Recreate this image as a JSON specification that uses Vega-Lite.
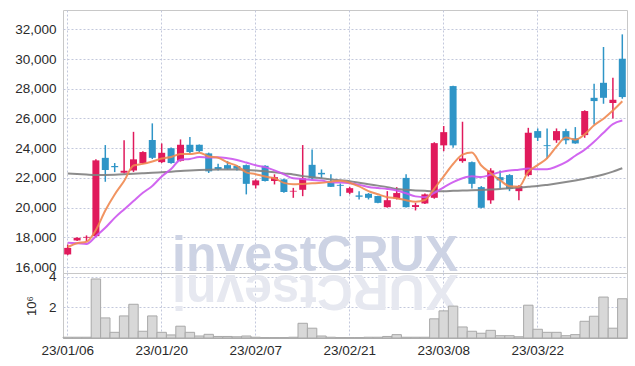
{
  "$schema": "https://vega.github.io/schema/vega-lite/v6.json",
  "padding": {"left": 14, "top": 9, "right": 9, "bottom": 0},
  "spacing": 0,
  "bounds": "flush",
  "background": "#ffffff",
  "config": {
    "view": {"stroke": "#c8c8c8"},
    "concat": {"spacing": 0},
    "axis": {
      "gridColor": "#c3c8dc",
      "gridDash": [2, 2],
      "gridWidth": 1,
      "labelFont": "Liberation Sans",
      "labelFontSize": 13.5,
      "labelColor": "#2a2a2a",
      "labelOverlap": false,
      "ticks": false,
      "domain": false
    }
  },
  "resolve": {"scale": {"x": "shared"}},
  "datasets": {
    "p": [
      {"d": "23/01/06", "o": 16850, "h": 17520, "l": 16800, "c": 17290, "v": 50000, "ma5": 17350, "ma10": 17630, "ma60": 22300},
      {"d": "23/01/09", "o": 17790, "h": 18000, "l": 17750, "c": 17970, "v": 50000, "ma5": 17600, "ma10": 17600, "ma60": 22270},
      {"d": "23/01/10", "o": 17980, "h": 18130, "l": 17750, "c": 18030, "v": 50000, "ma5": 17700, "ma10": 17560, "ma60": 22230},
      {"d": "23/01/11", "o": 18080, "h": 23250, "l": 18000, "c": 23180, "v": 3850000, "ma5": 18500, "ma10": 18080, "ma60": 22200},
      {"d": "23/01/12", "o": 23350, "h": 24210, "l": 21740, "c": 22530, "v": 1310000, "ma5": 19800, "ma10": 18640, "ma60": 22200},
      {"d": "23/01/13", "o": 22800, "h": 23000, "l": 22390, "c": 22720, "v": 370000, "ma5": 20886, "ma10": 19310, "ma60": 22210},
      {"d": "23/01/16", "o": 22350, "h": 24530, "l": 22300, "c": 22480, "v": 1440000, "ma5": 21788, "ma10": 19880, "ma60": 22240},
      {"d": "23/01/17", "o": 22500, "h": 25100, "l": 22400, "c": 23250, "v": 2200000, "ma5": 22832, "ma10": 20440, "ma60": 22280},
      {"d": "23/01/18", "o": 22980, "h": 23800, "l": 22950, "c": 23740, "v": 440000, "ma5": 22944, "ma10": 21000, "ma60": 22310},
      {"d": "23/01/19", "o": 24550, "h": 25670, "l": 23270, "c": 23350, "v": 1440000, "ma5": 23108, "ma10": 21454, "ma60": 22340},
      {"d": "23/01/20", "o": 23060, "h": 24320, "l": 23000, "c": 23690, "v": 370000, "ma5": 23302, "ma10": 22094, "ma60": 22380},
      {"d": "23/01/25", "o": 24000, "h": 24050, "l": 22950, "c": 23000, "v": 200000, "ma5": 23406, "ma10": 22597, "ma60": 22420},
      {"d": "23/01/26", "o": 23150, "h": 24590, "l": 23100, "c": 24230, "v": 770000, "ma5": 23602, "ma10": 23217, "ma60": 22460},
      {"d": "23/01/27", "o": 24230, "h": 24750, "l": 23650, "c": 23740, "v": 370000, "ma5": 23602, "ma10": 23273, "ma60": 22500},
      {"d": "23/01/30", "o": 24230, "h": 24250, "l": 23700, "c": 23800, "v": 130000, "ma5": 23692, "ma10": 23400, "ma60": 22530},
      {"d": "23/01/31", "o": 23650, "h": 23700, "l": 22330, "c": 22440, "v": 240000, "ma5": 23442, "ma10": 23372, "ma60": 22550},
      {"d": "23/02/01", "o": 22730, "h": 22950, "l": 22500, "c": 22600, "v": 100000, "ma5": 23362, "ma10": 23384, "ma60": 22560},
      {"d": "23/02/02", "o": 22860, "h": 23130, "l": 22560, "c": 22610, "v": 100000, "ma5": 23038, "ma10": 23320, "ma60": 22570},
      {"d": "23/02/03", "o": 22800, "h": 22860, "l": 22500, "c": 22620, "v": 80000, "ma5": 22814, "ma10": 23208, "ma60": 22570},
      {"d": "23/02/06", "o": 22860, "h": 22900, "l": 20890, "c": 21600, "v": 130000, "ma5": 22374, "ma10": 23033, "ma60": 22540},
      {"d": "23/02/07", "o": 21500, "h": 21900, "l": 21290, "c": 21830, "v": 50000, "ma5": 22252, "ma10": 22847, "ma60": 22500},
      {"d": "23/02/08", "o": 22815, "h": 22860, "l": 21750, "c": 21790, "v": 30000, "ma5": 22090, "ma10": 22726, "ma60": 22450},
      {"d": "23/02/09", "o": 21790, "h": 22240, "l": 21560, "c": 22050, "v": 30000, "ma5": 21978, "ma10": 22508, "ma60": 22380},
      {"d": "23/02/10", "o": 21900, "h": 21950, "l": 21000, "c": 21050, "v": 30000, "ma5": 21664, "ma10": 22239, "ma60": 22300},
      {"d": "23/02/13", "o": 21080, "h": 21330, "l": 20660, "c": 21130, "v": 50000, "ma5": 21570, "ma10": 21972, "ma60": 22230},
      {"d": "23/02/14", "o": 21200, "h": 24210, "l": 20770, "c": 21970, "v": 960000, "ma5": 21598, "ma10": 21925, "ma60": 22120},
      {"d": "23/02/15", "o": 22880, "h": 23920, "l": 21900, "c": 21970, "v": 640000, "ma5": 21634, "ma10": 21862, "ma60": 22050},
      {"d": "23/02/16", "o": 22340, "h": 22570, "l": 22000, "c": 22240, "v": 130000, "ma5": 21672, "ma10": 21825, "ma60": 21980},
      {"d": "23/02/17", "o": 21670, "h": 22240, "l": 21380, "c": 21400, "v": 50000, "ma5": 21742, "ma10": 21703, "ma60": 21900},
      {"d": "23/02/20", "o": 21530, "h": 21630, "l": 20770, "c": 21470, "v": 30000, "ma5": 21810, "ma10": 21690, "ma60": 21840},
      {"d": "23/02/21", "o": 21000, "h": 21400, "l": 20900, "c": 21310, "v": 30000, "ma5": 21678, "ma10": 21638, "ma60": 21780},
      {"d": "23/02/22", "o": 20820, "h": 21110, "l": 20550, "c": 20730, "v": 30000, "ma5": 21430, "ma10": 21532, "ma60": 21680},
      {"d": "23/02/23", "o": 20930, "h": 20980, "l": 20550, "c": 20660, "v": 50000, "ma5": 21114, "ma10": 21393, "ma60": 21580},
      {"d": "23/02/24", "o": 20780, "h": 20800, "l": 20300, "c": 20320, "v": 50000, "ma5": 20898, "ma10": 21320, "ma60": 21480},
      {"d": "23/02/27", "o": 20030, "h": 21110, "l": 20000, "c": 20500, "v": 100000, "ma5": 20704, "ma10": 21257, "ma60": 21380},
      {"d": "23/02/28", "o": 20620, "h": 21380, "l": 20550, "c": 20980, "v": 220000, "ma5": 20638, "ma10": 21158, "ma60": 21260},
      {"d": "23/03/02", "o": 22000, "h": 22240, "l": 20000, "c": 20030, "v": 50000, "ma5": 20498, "ma10": 20964, "ma60": 21200},
      {"d": "23/03/03", "o": 20040, "h": 20320, "l": 19810, "c": 20170, "v": 50000, "ma5": 20400, "ma10": 20757, "ma60": 21160},
      {"d": "23/03/06", "o": 20280, "h": 20950, "l": 20250, "c": 20890, "v": 50000, "ma5": 20514, "ma10": 20706, "ma60": 21130},
      {"d": "23/03/07", "o": 20660, "h": 24400, "l": 20600, "c": 24340, "v": 1250000, "ma5": 21282, "ma10": 20993, "ma60": 21110},
      {"d": "23/03/08", "o": 24190, "h": 25490, "l": 23800, "c": 25080, "v": 1770000, "ma5": 22102, "ma10": 21370, "ma60": 21110},
      {"d": "23/03/09", "o": 28180, "h": 28200, "l": 24030, "c": 24190, "v": 2080000, "ma5": 22934, "ma10": 21716, "ma60": 21130},
      {"d": "23/03/10", "o": 23130, "h": 25780, "l": 23020, "c": 23310, "v": 720000, "ma5": 23562, "ma10": 21981, "ma60": 21150},
      {"d": "23/03/13", "o": 23060, "h": 23100, "l": 21290, "c": 21600, "v": 440000, "ma5": 23704, "ma10": 22109, "ma60": 21170},
      {"d": "23/03/14", "o": 21380, "h": 21450, "l": 19950, "c": 19990, "v": 310000, "ma5": 22834, "ma10": 22058, "ma60": 21190},
      {"d": "23/03/15", "o": 20490, "h": 22650, "l": 20260, "c": 22500, "v": 500000, "ma5": 22318, "ma10": 22210, "ma60": 21220},
      {"d": "23/03/16", "o": 22050, "h": 22500, "l": 21290, "c": 21830, "v": 150000, "ma5": 21846, "ma10": 22390, "ma60": 21260},
      {"d": "23/03/17", "o": 22190, "h": 22250, "l": 21110, "c": 21270, "v": 150000, "ma5": 21442, "ma10": 22500, "ma60": 21300},
      {"d": "23/03/20", "o": 21110, "h": 21500, "l": 20490, "c": 21450, "v": 80000, "ma5": 21412, "ma10": 22556, "ma60": 21350},
      {"d": "23/03/21", "o": 22190, "h": 25370, "l": 22100, "c": 25040, "v": 2140000, "ma5": 22422, "ma10": 22626, "ma60": 21400},
      {"d": "23/03/22", "o": 25150, "h": 25330, "l": 24480, "c": 24700, "v": 570000, "ma5": 22862, "ma10": 22588, "ma60": 21450},
      {"d": "23/03/23", "o": 24200, "h": 25330, "l": 23300, "c": 24140, "v": 370000, "ma5": 23324, "ma10": 22583, "ma60": 21530},
      {"d": "23/03/24", "o": 24530, "h": 25330, "l": 24360, "c": 25150, "v": 370000, "ma5": 24100, "ma10": 22767, "ma60": 21620},
      {"d": "23/03/27", "o": 25150, "h": 25300, "l": 24260, "c": 24530, "v": 150000, "ma5": 24716, "ma10": 23060, "ma60": 21720},
      {"d": "23/03/28", "o": 24660, "h": 25420, "l": 24300, "c": 24320, "v": 220000, "ma5": 24572, "ma10": 23493, "ma60": 21830},
      {"d": "23/03/29", "o": 24880, "h": 26550, "l": 24700, "c": 26500, "v": 1090000, "ma5": 24932, "ma10": 23893, "ma60": 21950},
      {"d": "23/03/30", "o": 27390, "h": 28340, "l": 25600, "c": 27170, "v": 1420000, "ma5": 25538, "ma10": 24427, "ma60": 22080},
      {"d": "23/03/31", "o": 28400, "h": 30810, "l": 26990, "c": 27390, "v": 2670000, "ma5": 25986, "ma10": 25039, "ma60": 22230},
      {"d": "23/04/03", "o": 27040, "h": 28740, "l": 26000, "c": 27260, "v": 640000, "ma5": 26532, "ma10": 25620, "ma60": 22420},
      {"d": "23/04/04", "o": 30020, "h": 31660, "l": 27330, "c": 27440, "v": 2560000, "ma5": 27156, "ma10": 25860, "ma60": 22650}
    ]
  },
  "vconcat": [
    {
      "width": 564,
      "height": 263,
      "data": {"name": "p"},
      "encoding": {
        "x": {
          "field": "d", "type": "ordinal", "sort": null,
          "scale": {"paddingInner": 0, "paddingOuter": 0, "domain": ["23/01/06","23/01/09","23/01/10","23/01/11","23/01/12","23/01/13","23/01/16","23/01/17","23/01/18","23/01/19","23/01/20","23/01/25","23/01/26","23/01/27","23/01/30","23/01/31","23/02/01","23/02/02","23/02/03","23/02/06","23/02/07","23/02/08","23/02/09","23/02/10","23/02/13","23/02/14","23/02/15","23/02/16","23/02/17","23/02/20","23/02/21","23/02/22","23/02/23","23/02/24","23/02/27","23/02/28","23/03/02","23/03/03","23/03/06","23/03/07","23/03/08","23/03/09","23/03/10","23/03/13","23/03/14","23/03/15","23/03/16","23/03/17","23/03/20","23/03/21","23/03/22","23/03/23","23/03/24","23/03/27","23/03/28","23/03/29","23/03/30","23/03/31","23/04/03","23/04/04"]},
          "axis": {"labels": false, "title": null, "grid": true, "bandPosition": 0.5, "minExtent": 0, "maxExtent": 0, "labelPadding": 0, "values": ["23/01/06","23/01/20","23/02/07","23/02/21","23/03/08","23/03/22"]}
        },
        "y": {"type": "quantitative", "title": null,
          "scale": {"domain": [15600, 33300], "nice": false, "zero": false},
          "axis": {"values": [16000,18000,20000,22000,24000,26000,28000,30000,32000], "tickCount": 9, "labelOverlap": false, "format": ",.0f", "labelPadding": 7, "grid": true}}
      },
      "layer": [
        {
          "data": {"values": [{"t": "investCRUX", "yy": 15720}]},
          "mark": {"type": "text", "font": "Liberation Sans", "fontWeight": "bold", "fontSize": 50, "color": "#cdd3e4", "align": "center", "baseline": "alphabetic", "dx": 3},
          "encoding": {
            "x": {"datum": "23/02/15", "type": "ordinal"},
            "y": {"field": "yy"},
            "text": {"field": "t"}
          }
        },
        {
          "mark": {"type": "rule", "strokeWidth": 1.5},
          "encoding": {
            "y": {"field": "l"},
            "y2": {"field": "h"},
            "color": {"condition": {"test": "datum.c >= datum.o", "value": "#e01a5c"}, "value": "#2f95c7"}
          }
        },
        {
          "mark": {"type": "bar", "size": 7},
          "encoding": {
            "y": {"field": "o"},
            "y2": {"field": "c"},
            "color": {"condition": {"test": "datum.c >= datum.o", "value": "#e01a5c"}, "value": "#2f95c7"}
          }
        },
        {
          "mark": {"type": "line", "color": "#808080", "strokeWidth": 2, "interpolate": "monotone", "opacity": 0.9},
          "encoding": {"y": {"field": "ma60"}}
        },
        {
          "mark": {"type": "line", "color": "#cc55ee", "strokeWidth": 2, "interpolate": "monotone", "opacity": 0.9},
          "encoding": {"y": {"field": "ma10"}}
        },
        {
          "mark": {"type": "line", "color": "#f08850", "strokeWidth": 2, "interpolate": "monotone", "opacity": 0.9},
          "encoding": {"y": {"field": "ma5"}}
        }
      ]
    },
    {
      "width": 564,
      "height": 65,
      "data": {"name": "p"},
      "encoding": {
        "x": {
          "field": "d", "type": "ordinal", "sort": null,
          "scale": {"paddingInner": 0, "paddingOuter": 0, "domain": ["23/01/06","23/01/09","23/01/10","23/01/11","23/01/12","23/01/13","23/01/16","23/01/17","23/01/18","23/01/19","23/01/20","23/01/25","23/01/26","23/01/27","23/01/30","23/01/31","23/02/01","23/02/02","23/02/03","23/02/06","23/02/07","23/02/08","23/02/09","23/02/10","23/02/13","23/02/14","23/02/15","23/02/16","23/02/17","23/02/20","23/02/21","23/02/22","23/02/23","23/02/24","23/02/27","23/02/28","23/03/02","23/03/03","23/03/06","23/03/07","23/03/08","23/03/09","23/03/10","23/03/13","23/03/14","23/03/15","23/03/16","23/03/17","23/03/20","23/03/21","23/03/22","23/03/23","23/03/24","23/03/27","23/03/28","23/03/29","23/03/30","23/03/31","23/04/03","23/04/04"]},
          "axis": {"title": null, "grid": true, "labelAngle": 0, "labelPadding": 5, "bandPosition": 0.5, "domain": true, "domainColor": "#b0b0b0", "values": ["23/01/06","23/01/20","23/02/07","23/02/21","23/03/08","23/03/22"]}
        },
        "y": {"type": "quantitative",
          "scale": {"domain": [0, 4240000], "nice": false},
          "axis": {"values": [2000000, 4000000], "labelExpr": "datum.value / 1000000", "title": "10⁶", "titleFont": "Liberation Sans", "titleFontSize": 13, "titleFontWeight": "normal", "titleColor": "#2a2a2a", "titlePadding": 10, "labelPadding": 7, "grid": true}}
      },
      "layer": [
        {
          "data": {"values": [{"t": "XURCtsevni", "yy": 4100000}]},
          "mark": {"type": "text", "font": "Liberation Sans", "fontWeight": "bold", "fontSize": 50, "color": "#e6e8f0", "align": "center", "baseline": "alphabetic", "angle": 180, "dx": -3},
          "encoding": {
            "x": {"datum": "23/02/15", "type": "ordinal"},
            "y": {"field": "yy"},
            "text": {"field": "t"}
          }
        },
        {
          "mark": {"type": "bar", "fill": "#d8d8d8", "stroke": "#a9a9a9", "strokeWidth": 1},
          "encoding": {"y": {"field": "v"}}
        }
      ]
    }
  ]
}
